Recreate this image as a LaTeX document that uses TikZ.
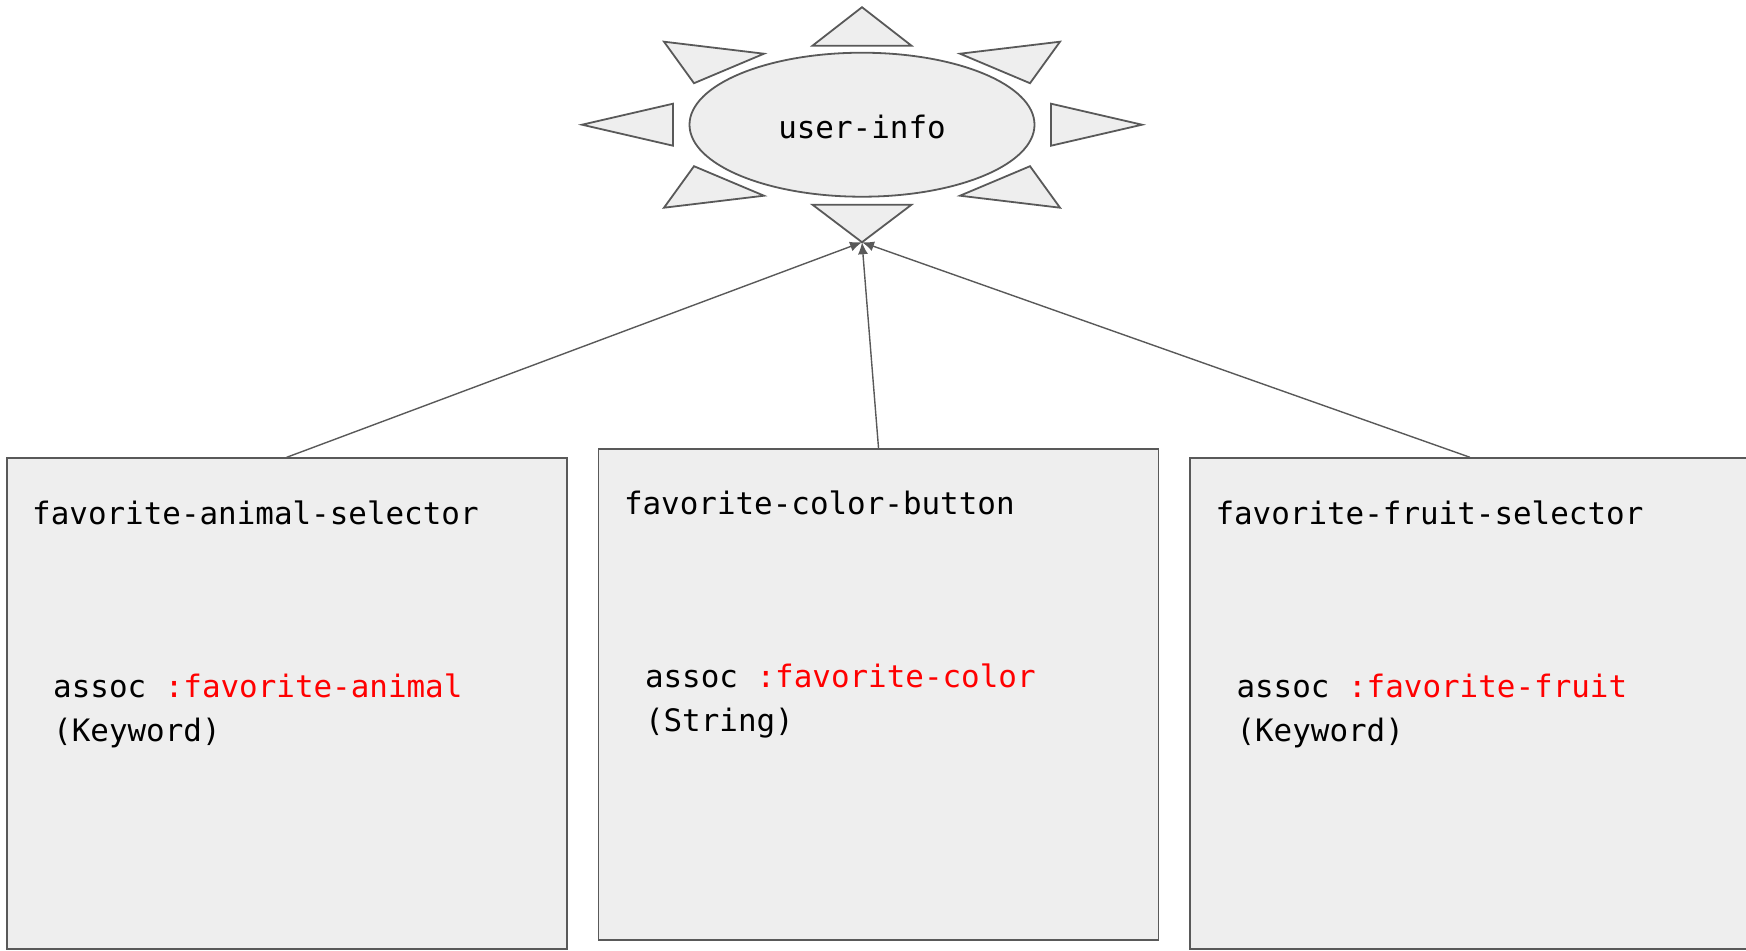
\documentclass[tikz,border=0pt]{standalone}
\usepackage{fontspec}
\setmonofont{DejaVu Sans Mono}
\usetikzlibrary{shapes.geometric,arrows.meta}
\definecolor{boxgrey}{RGB}{238, 238, 238}
\definecolor{edgegrey}{RGB}{89, 89, 89}
\definecolor{keyred}{RGB}{255, 0, 0}
\newcommand{\codefont}{\ttfamily\fontsize{15.45pt}{19pt}\selectfont}
\tikzstyle{component} = [
  draw=edgegrey,
  fill=boxgrey,
  line width=0.9pt,
  minimum width=280pt,
  minimum height=245.5pt,
  inner sep=0pt,
]
\tikzstyle{atom} = [
  ellipse,
  draw=edgegrey,
  fill=boxgrey,
  line width=0.9pt,
  minimum width=172.5pt,
  minimum height=72pt,
  inner sep=0pt,
  font=\codefont,
]
\tikzstyle{ray} = [draw=edgegrey, fill=boxgrey, line width=0.9pt]
\tikzstyle{code} = [font=\codefont, inner sep=0pt, anchor=base west]
\tikzstyle{link} = [draw=edgegrey, line width=0.7pt, -{Latex[length=6pt,width=5pt]}]

\begin{document}
\begin{tikzpicture}[x=0.5pt, y=-0.5pt]
            \useasboundingbox (0,0) rectangle (1746,950);

            % Atom
            \node[atom] (userinfo) at (862,124.7) {\raisebox{-1pt}[\height][\depth]{user-info}};

            % Rays round the atom
            \begin{scope}[shift={(userinfo.center)}]
                \draw[ray] (-49.5,-79) -- (0,-117.5) -- (49.5,-79) -- cycle;
                \draw[ray] (-49.5,80) -- (0,117.5) -- (49.5,80) -- cycle;
                \draw[ray] (-189,-21) -- (-280,0) -- (-189,21) -- cycle;
                \draw[ray] (189,-21) -- (280,0) -- (189,21) -- cycle;
                \draw[ray] (-198,-83) -- (-98,-71) -- (-168,-41.5) -- cycle;
                \draw[ray] (198,-83) -- (98,-71) -- (168,-41.5) -- cycle;
                \draw[ray] (-198,83) -- (-98,71) -- (-168,41.5) -- cycle;
                \draw[ray] (198,83) -- (98,71) -- (168,41.5) -- cycle;
                \coordinate (tip) at (0,117.5);
            \end{scope}

            % Components
            \node[component] (animal) at (286.7,703.7) {};
            \node[component] (color) at (878.5,694.2) {};
            \node[component] (fruit) at (1470,703.7) {};

            % Labels
            \node[code] (animaltitle) at ([xshift=13pt, yshift=-33.5pt]animal.north west) {favorite-animal-selector};
            \node[code] (animalkey) at ([xshift=23.5pt, yshift=-120pt]animal.north west) {assoc \textcolor{keyred}{:favorite-animal}};
            \node[code] (animaltype) at ([yshift=-22pt]animalkey.base west) {(Keyword)};

            \node[code] (colortitle) at ([xshift=13pt, yshift=-33.5pt]color.north west) {favorite-color-button};
            \node[code] (colorkey) at ([xshift=23.5pt, yshift=-120pt]color.north west) {assoc \textcolor{keyred}{:favorite-color}};
            \node[code] (colortype) at ([yshift=-22pt]colorkey.base west) {(String)};

            \node[code] (fruittitle) at ([xshift=13pt, yshift=-33.5pt]fruit.north west) {favorite-fruit-selector};
            \node[code] (fruitkey) at ([xshift=23.5pt, yshift=-120pt]fruit.north west) {assoc \textcolor{keyred}{:favorite-fruit}};
            \node[code] (fruittype) at ([yshift=-22pt]fruitkey.base west) {(Keyword)};

            % Subscriptions
            \draw[link] (animal.north) -- (tip);
            \draw[link] (color.north) -- (tip);
            \draw[link] (fruit.north) -- (tip);
\end{tikzpicture}
\end{document}
